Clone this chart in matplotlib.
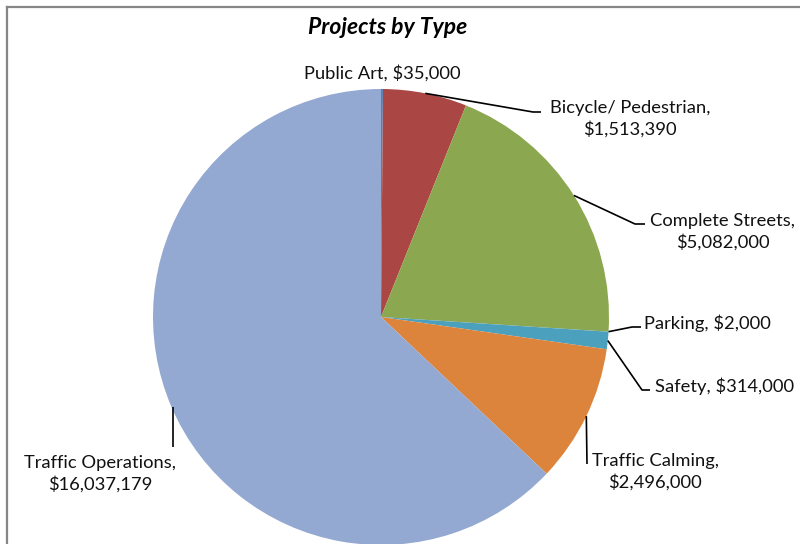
import numpy as np
import matplotlib.pyplot as plt
from matplotlib.lines import Line2D

plt.rcParams['font.family'] = ['Lato', 'DejaVu Sans']

labels = ['Public Art', 'Bicycle/ Pedestrian', 'Complete Streets', 'Parking',
          'Safety', 'Traffic Calming', 'Traffic Operations']
values = [35000, 1513390, 5082000, 2000, 314000, 2496000, 16037179]
colors = ['#4F81BD', '#AA4744', '#8BA74F', '#4F81BD', '#4BA0BD', '#DD843C', '#94A9D1']

W, H = 800, 544
fig = plt.figure(figsize=(8, 5.44), dpi=100)
ax = fig.add_axes([0, 0, 1, 1])

cx, cy, r = 381, H - 317, 228
wedges, _ = ax.pie(values, colors=colors, startangle=90, counterclock=False,
                   center=(cx, cy), radius=r, frame=True,
                   wedgeprops=dict(linewidth=0))
ax.set_xlim(0, W)
ax.set_ylim(0, H)
ax.set_aspect('equal')
ax.axis('off')

# chart border (cropped at right/bottom)
fig.add_artist(Line2D([7 / W, 7 / W], [0, 1 - 7 / H], color='#868686', lw=1.6,
                      transform=fig.transFigure))
fig.add_artist(Line2D([7 / W, 1], [1 - 7 / H, 1 - 7 / H], color='#868686', lw=1.6,
                      transform=fig.transFigure))

ax.text(388, H - 28, 'Projects by Type', ha='center', va='center',
        fontsize=16.5, fontweight='bold', fontstyle='italic', color='black')

def edge(i):
    w = wedges[i]
    a = np.deg2rad((w.theta1 + w.theta2) / 2)
    return cx + r * np.cos(a), cy + r * np.sin(a)

def money(v):
    return '${:,}'.format(v)

txt = dict(fontsize=13.2, color='#111111', linespacing=1.32)

# leader lines: elbow / end points in pixels from top-left
legs = {1: [(533, 112), (541, 112)],
        2: [(635, 224), (645, 224)],
        3: [(632, 327), (641, 327)],
        4: [(642, 390), (650, 390)],
        5: [(587, 464)],
        6: [(173, 447)]}
for i, pts in legs.items():
    x0, y0 = edge(i)
    if i == 6:
        x0 = 173
    xs = [x0] + [p[0] for p in pts]
    ys = [y0] + [H - p[1] for p in pts]
    ax.plot(xs, ys, color='black', lw=1.2, solid_capstyle='butt')

ax.text(382, H - 73, labels[0] + ', ' + money(values[0]), ha='center', va='center', **txt)
ax.text(630, H - 119, labels[1] + ',\n' + money(values[1]), ha='center', va='center', **txt)
ax.text(723, H - 232, labels[2] + ',\n' + money(values[2]), ha='center', va='center', **txt)
ax.text(644, H - 323, labels[3] + ', ' + money(values[3]), ha='left', va='center', **txt)
ax.text(655, H - 386, labels[4] + ', ' + money(values[4]), ha='left', va='center', **txt)
ax.text(655, H - 472, labels[5] + ',\n' + money(values[5]), ha='center', va='center', **txt)
ax.text(100, H - 474, labels[6] + ',\n' + money(values[6]), ha='center', va='center', **txt)

fig.savefig('out.png', dpi=100)
